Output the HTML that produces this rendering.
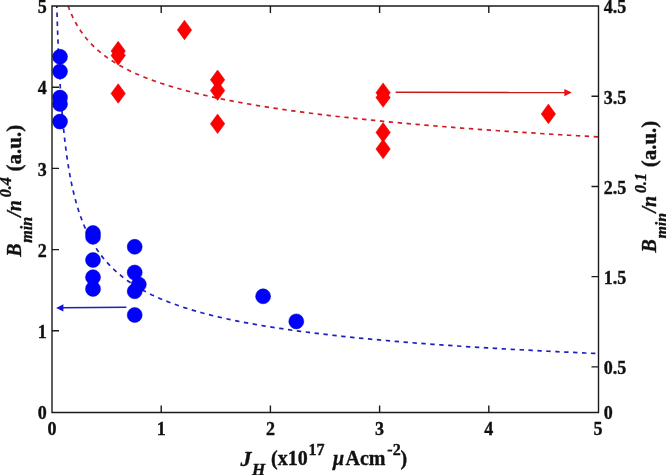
<!DOCTYPE html>
<html><head><meta charset="utf-8"><style>
html,body{margin:0;padding:0;background:#fff;}
svg{display:block;}
text{font-family:"Liberation Serif","Times New Roman",serif;font-weight:bold;fill:#111;stroke:#111;stroke-width:0.35px;}
.it{font-style:italic;}
</style></head><body>
<svg width="666" height="475" viewBox="0 0 666 475">

<defs><clipPath id="c"><rect x="52" y="6" width="546" height="406"/></clipPath></defs>
<g clip-path="url(#c)" fill="none" stroke-width="1.7">
<path d="M56.80,6.00 L56.90,9.38 L57.00,12.74 L57.10,16.06 L57.21,19.36 L57.32,22.63 L57.43,25.88 L57.54,29.09 L57.65,32.28 L57.77,35.45 L57.89,38.58 L58.01,41.70 L58.13,44.78 L58.26,47.84 L58.39,50.87 L58.52,53.88 L58.66,56.87 L58.79,59.82 L58.94,62.76 L59.08,65.67 L59.22,68.55 L59.37,71.42 L59.53,74.25 L59.68,77.07 L59.84,79.86 L60.00,82.62 L60.17,85.37 L60.33,88.09 L60.51,90.79 L60.68,93.46 L60.86,96.12 L61.04,98.75 L61.23,101.36 L61.42,103.95 L61.62,106.51 L61.81,109.06 L62.02,111.58 L62.22,114.09 L62.44,116.57 L62.65,119.03 L62.87,121.47 L63.09,123.89 L63.32,126.29 L63.56,128.67 L63.80,131.03 L64.04,133.37 L64.29,135.69 L64.54,138.00 L64.80,140.28 L65.06,142.54 L65.33,144.79 L65.61,147.01 L65.89,149.22 L66.18,151.41 L66.47,153.58 L66.77,155.73 L67.07,157.87 L67.38,159.99 L67.70,162.09 L68.03,164.17 L68.36,166.23 L68.69,168.28 L69.04,170.31 L69.39,172.32 L69.75,174.32 L70.12,176.30 L70.49,178.27 L70.87,180.21 L71.26,182.14 L71.66,184.06 L72.06,185.96 L72.48,187.84 L72.90,189.71 L73.33,191.56 L73.77,193.40 L74.22,195.22 L74.68,197.02 L75.15,198.82 L75.63,200.59 L76.11,202.35 L76.61,204.10 L77.12,205.83 L77.64,207.55 L78.17,209.25 L78.71,210.94 L79.26,212.62 L79.82,214.28 L80.40,215.92 L80.98,217.56 L81.58,219.18 L82.19,220.78 L82.81,222.38 L83.45,223.96 L84.10,225.52 L84.76,227.08 L85.44,228.62 L86.13,230.15 L86.83,231.66 L87.55,233.16 L88.29,234.65 L89.03,236.13 L89.80,237.60 L90.58,239.05 L91.38,240.49 L92.19,241.92 L93.02,243.34 L93.86,244.74 L94.73,246.13 L95.61,247.52 L96.51,248.89 L97.43,250.25 L98.37,251.59 L99.32,252.93 L100.30,254.26 L101.30,255.57 L102.32,256.87 L103.35,258.17 L104.41,259.45 L105.50,260.72 L106.60,261.98 L110.73,266.39 L114.86,270.39 L118.99,274.03 L123.12,277.37 L127.25,280.44 L131.38,283.29 L135.51,285.94 L139.64,288.40 L143.76,290.71 L147.89,292.88 L152.02,294.92 L156.15,296.84 L160.28,298.66 L164.41,300.38 L168.54,302.02 L172.67,303.58 L176.80,305.06 L180.93,306.48 L185.06,307.83 L189.19,309.13 L193.32,310.37 L197.45,311.56 L201.58,312.70 L205.71,313.81 L209.84,314.87 L213.96,315.89 L218.09,316.87 L222.22,317.83 L226.35,318.75 L230.48,319.64 L234.61,320.50 L238.74,321.33 L242.87,322.14 L247.00,322.92 L251.13,323.68 L255.26,324.42 L259.39,325.14 L263.52,325.84 L267.65,326.52 L271.78,327.18 L275.91,327.82 L280.04,328.45 L284.16,329.06 L288.29,329.66 L292.42,330.24 L296.55,330.81 L300.68,331.37 L304.81,331.91 L308.94,332.44 L313.07,332.96 L317.20,333.46 L321.33,333.96 L325.46,334.44 L329.59,334.92 L333.72,335.38 L337.85,335.84 L341.98,336.28 L346.11,336.72 L350.24,337.15 L354.36,337.57 L358.49,337.98 L362.62,338.39 L366.75,338.78 L370.88,339.17 L375.01,339.55 L379.14,339.93 L383.27,340.30 L387.40,340.66 L391.53,341.02 L395.66,341.37 L399.79,341.71 L403.92,342.05 L408.05,342.39 L412.18,342.71 L416.31,343.04 L420.44,343.35 L424.56,343.67 L428.69,343.98 L432.82,344.28 L436.95,344.58 L441.08,344.87 L445.21,345.16 L449.34,345.45 L453.47,345.73 L457.60,346.00 L461.73,346.28 L465.86,346.55 L469.99,346.81 L474.12,347.07 L478.25,347.33 L482.38,347.59 L486.51,347.84 L490.64,348.09 L494.76,348.33 L498.89,348.57 L503.02,348.81 L507.15,349.05 L511.28,349.28 L515.41,349.51 L519.54,349.73 L523.67,349.96 L527.80,350.18 L531.93,350.40 L536.06,350.61 L540.19,350.83 L544.32,351.04 L548.45,351.25 L552.58,351.45 L556.71,351.66 L560.84,351.86 L564.96,352.05 L569.09,352.25 L573.22,352.45 L577.35,352.64 L581.48,352.83 L585.61,353.02 L589.74,353.20 L593.87,353.39 L598.00,353.57" stroke="#2020c0" stroke-dasharray="4.4 4.541" stroke-dashoffset="2.35"/>
<path d="M68.17,6.00 L68.33,6.46 L68.50,6.92 L68.67,7.38 L68.84,7.83 L69.02,8.29 L69.19,8.75 L69.37,9.20 L69.55,9.66 L69.73,10.11 L69.91,10.57 L70.09,11.02 L70.28,11.47 L70.47,11.93 L70.66,12.38 L70.85,12.83 L71.04,13.28 L71.24,13.73 L71.43,14.18 L71.63,14.63 L71.84,15.08 L72.04,15.53 L72.25,15.98 L72.45,16.43 L72.66,16.87 L72.88,17.32 L73.09,17.77 L73.31,18.21 L73.53,18.66 L73.75,19.10 L73.97,19.55 L74.20,19.99 L74.43,20.43 L74.66,20.88 L74.89,21.32 L75.13,21.76 L75.36,22.20 L75.60,22.64 L75.85,23.08 L76.09,23.52 L76.34,23.96 L76.59,24.40 L76.84,24.84 L77.10,25.28 L77.35,25.71 L77.62,26.15 L77.88,26.59 L78.14,27.02 L78.41,27.46 L78.69,27.89 L78.96,28.33 L79.24,28.76 L79.52,29.19 L79.80,29.63 L80.09,30.06 L80.37,30.49 L80.67,30.92 L80.96,31.35 L81.26,31.78 L81.56,32.21 L81.86,32.64 L82.17,33.07 L82.48,33.50 L82.79,33.93 L83.11,34.35 L83.43,34.78 L83.75,35.21 L84.08,35.63 L84.41,36.06 L84.74,36.48 L85.08,36.91 L85.42,37.33 L85.76,37.76 L86.11,38.18 L86.46,38.60 L86.81,39.02 L87.17,39.44 L87.53,39.87 L87.90,40.29 L88.27,40.71 L88.64,41.13 L89.02,41.55 L89.40,41.96 L89.78,42.38 L90.17,42.80 L90.56,43.22 L90.96,43.64 L91.36,44.05 L91.76,44.47 L92.17,44.88 L92.59,45.30 L93.00,45.71 L93.43,46.13 L93.85,46.54 L94.28,46.95 L94.72,47.37 L95.16,47.78 L95.60,48.19 L96.05,48.60 L96.50,49.01 L96.96,49.42 L97.42,49.83 L97.89,50.24 L98.36,50.65 L98.83,51.06 L99.32,51.47 L99.80,51.88 L100.29,52.28 L100.79,52.69 L101.29,53.10 L101.80,53.50 L102.31,53.91 L102.83,54.31 L103.35,54.72 L103.88,55.12 L104.41,55.52 L104.95,55.93 L105.49,56.33 L106.04,56.73 L106.60,57.13 L110.73,59.98 L114.86,62.62 L118.99,65.07 L123.12,67.36 L127.25,69.50 L131.38,71.52 L135.51,73.42 L139.64,75.23 L143.76,76.94 L147.89,78.56 L152.02,80.11 L156.15,81.60 L160.28,83.01 L164.41,84.37 L168.54,85.68 L172.67,86.93 L176.80,88.14 L180.93,89.30 L185.06,90.43 L189.19,91.51 L193.32,92.56 L197.45,93.58 L201.58,94.56 L205.71,95.52 L209.84,96.44 L213.96,97.34 L218.09,98.22 L222.22,99.07 L226.35,99.90 L230.48,100.70 L234.61,101.49 L238.74,102.26 L242.87,103.01 L247.00,103.74 L251.13,104.45 L255.26,105.15 L259.39,105.83 L263.52,106.50 L267.65,107.15 L271.78,107.79 L275.91,108.41 L280.04,109.03 L284.16,109.63 L288.29,110.22 L292.42,110.79 L296.55,111.36 L300.68,111.92 L304.81,112.46 L308.94,113.00 L313.07,113.53 L317.20,114.04 L321.33,114.55 L325.46,115.05 L329.59,115.54 L333.72,116.03 L337.85,116.50 L341.98,116.97 L346.11,117.43 L350.24,117.89 L354.36,118.33 L358.49,118.77 L362.62,119.21 L366.75,119.64 L370.88,120.06 L375.01,120.47 L379.14,120.88 L383.27,121.28 L387.40,121.68 L391.53,122.08 L395.66,122.46 L399.79,122.85 L403.92,123.22 L408.05,123.59 L412.18,123.96 L416.31,124.33 L420.44,124.68 L424.56,125.04 L428.69,125.39 L432.82,125.73 L436.95,126.07 L441.08,126.41 L445.21,126.74 L449.34,127.07 L453.47,127.40 L457.60,127.72 L461.73,128.04 L465.86,128.35 L469.99,128.67 L474.12,128.97 L478.25,129.28 L482.38,129.58 L486.51,129.88 L490.64,130.17 L494.76,130.46 L498.89,130.75 L503.02,131.04 L507.15,131.32 L511.28,131.60 L515.41,131.88 L519.54,132.15 L523.67,132.43 L527.80,132.70 L531.93,132.96 L536.06,133.23 L540.19,133.49 L544.32,133.75 L548.45,134.01 L552.58,134.26 L556.71,134.51 L560.84,134.76 L564.96,135.01 L569.09,135.26 L573.22,135.50 L577.35,135.74 L581.48,135.98 L585.61,136.22 L589.74,136.45 L593.87,136.68 L598.00,136.92" stroke="#d01c22" stroke-dasharray="4.4 4.533" stroke-dashoffset="0.31"/>
</g>
<g fill="#0000ff" stroke="#0000c8" stroke-width="0.5">
<circle cx="60" cy="56.8" r="7.5"/>
<circle cx="60" cy="71.5" r="7.5"/>
<circle cx="60" cy="97.6" r="7.5"/>
<circle cx="60" cy="104" r="7.5"/>
<circle cx="60" cy="121.6" r="7.5"/>
<circle cx="93" cy="233" r="7.5"/>
<circle cx="93" cy="236.8" r="7.5"/>
<circle cx="93" cy="260" r="7.5"/>
<circle cx="93" cy="277.2" r="7.5"/>
<circle cx="93" cy="288.9" r="7.5"/>
<circle cx="134.7" cy="246.8" r="7.5"/>
<circle cx="134.7" cy="272.5" r="7.5"/>
<circle cx="138.8" cy="284.5" r="7.5"/>
<circle cx="134.7" cy="291.3" r="7.5"/>
<circle cx="134.7" cy="315" r="7.5"/>
<circle cx="263.1" cy="296.3" r="7.5"/>
<circle cx="296.3" cy="321.4" r="7.5"/>
</g><g fill="#ff0000" stroke="#d80000" stroke-width="0.5" stroke-linejoin="miter">
<path d="M118.2,41.2 L125.4,51 L118.2,60.8 L111.0,51 Z"/>
<path d="M118.2,45.7 L125.4,55.5 L118.2,65.3 L111.0,55.5 Z"/>
<path d="M118.2,83.7 L125.4,93.5 L118.2,103.3 L111.0,93.5 Z"/>
<path d="M184.5,20.2 L191.7,30.0 L184.5,39.8 L177.3,30.0 Z"/>
<path d="M217.6,70.0 L224.79999999999998,79.8 L217.6,89.6 L210.4,79.8 Z"/>
<path d="M217.6,80.8 L224.79999999999998,90.6 L217.6,100.39999999999999 L210.4,90.6 Z"/>
<path d="M217.6,114.0 L224.79999999999998,123.8 L217.6,133.6 L210.4,123.8 Z"/>
<path d="M383.1,82.9 L390.3,92.7 L383.1,102.5 L375.90000000000003,92.7 Z"/>
<path d="M383.1,87.7 L390.3,97.5 L383.1,107.3 L375.90000000000003,97.5 Z"/>
<path d="M383.1,122.60000000000001 L390.3,132.4 L383.1,142.20000000000002 L375.90000000000003,132.4 Z"/>
<path d="M383.1,139.2 L390.3,149 L383.1,158.8 L375.90000000000003,149 Z"/>
<path d="M548.4,104.10000000000001 L555.6,113.9 L548.4,123.7 L541.1999999999999,113.9 Z"/>
</g>
<line x1="126.4" y1="307.2" x2="62" y2="307.7" stroke="#2222a8" stroke-width="1.5"/><path d="M56.1,307.9 L63.4,304.3 L63.4,311.5 Z" fill="#1212e0"/>
<line x1="395.6" y1="92.2" x2="566" y2="92.5" stroke="#c41a1a" stroke-width="1.5"/><path d="M571.8,92.6 L564.3,89 L564.3,96.2 Z" fill="#f01010"/>
<path d="M52,6 H598.5 V412.5 H52 Z" fill="none" stroke="#1a1a1a" stroke-width="1.4"/>
<path d="M161.20,412.5 v-7 M161.20,6 v7 M270.40,412.5 v-7 M270.40,6 v7 M379.60,412.5 v-7 M379.60,6 v7 M488.80,412.5 v-7 M488.80,6 v7 M52,330.80 h7 M52,249.60 h7 M52,168.40 h7 M52,87.20 h7 M598.5,366.89 h-7 M598.5,276.67 h-7 M598.5,186.44 h-7 M598.5,96.22 h-7" stroke="#1a1a1a" stroke-width="1.4" fill="none"/>
<text x="46.8" y="419.1" font-size="18" text-anchor="end">0</text>
<text x="46.8" y="337.9" font-size="18" text-anchor="end">1</text>
<text x="46.8" y="256.7" font-size="18" text-anchor="end">2</text>
<text x="46.8" y="175.5" font-size="18" text-anchor="end">3</text>
<text x="46.8" y="94.3" font-size="18" text-anchor="end">4</text>
<text x="46.8" y="13.1" font-size="18" text-anchor="end">5</text>
<text x="52.0" y="434.5" font-size="18" text-anchor="middle">0</text>
<text x="161.2" y="434.5" font-size="18" text-anchor="middle">1</text>
<text x="270.4" y="434.5" font-size="18" text-anchor="middle">2</text>
<text x="379.6" y="434.5" font-size="18" text-anchor="middle">3</text>
<text x="488.8" y="434.5" font-size="18" text-anchor="middle">4</text>
<text x="598.0" y="434.5" font-size="18" text-anchor="middle">5</text>
<text x="603.8" y="419.3" font-size="18">0</text>
<text x="603.8" y="374.2" font-size="18">0.5</text>
<text x="603.8" y="284.0" font-size="18">1.5</text>
<text x="603.8" y="193.7" font-size="18">2.5</text>
<text x="603.8" y="103.5" font-size="18">3.5</text>
<text x="603.8" y="13.3" font-size="18">4.5</text>
<text font-size="22" class="it" x="240.6" y="465.6">J</text>
<text font-size="17" class="it" x="252" y="474.9">H</text>
<text font-size="20" x="271" y="464.5">(x10</text>
<text font-size="16" x="308.5" y="454.5">17</text>
<text font-size="20" class="it" x="333" y="464.5">μ</text>
<text font-size="20" x="345.5" y="464.5">Acm</text>
<text font-size="16" x="387.3" y="454.5">-2</text>
<text font-size="20" x="400.5" y="464.5">)</text>
<g transform="translate(21,256.7) rotate(-90)"><text font-size="20" class="it" x="0" y="0">B</text><text font-size="16" class="it" x="14" y="10.6">min</text><text font-size="20" class="it" x="40" y="0">/n</text><text font-size="16" class="it" x="59.5" y="-10">0.4</text><text font-size="21" x="85.3" y="0">(a.u.)</text></g>
<g transform="translate(655.9,252.6) rotate(-90)"><text font-size="20" class="it" x="0" y="0">B</text><text font-size="16" class="it" x="14" y="10.6">min</text><text font-size="20" class="it" x="40" y="0">/n</text><text font-size="16" class="it" x="59.5" y="-10">0.1</text><text font-size="21" x="85.3" y="0">(a.u.)</text></g>
</svg></body></html>
